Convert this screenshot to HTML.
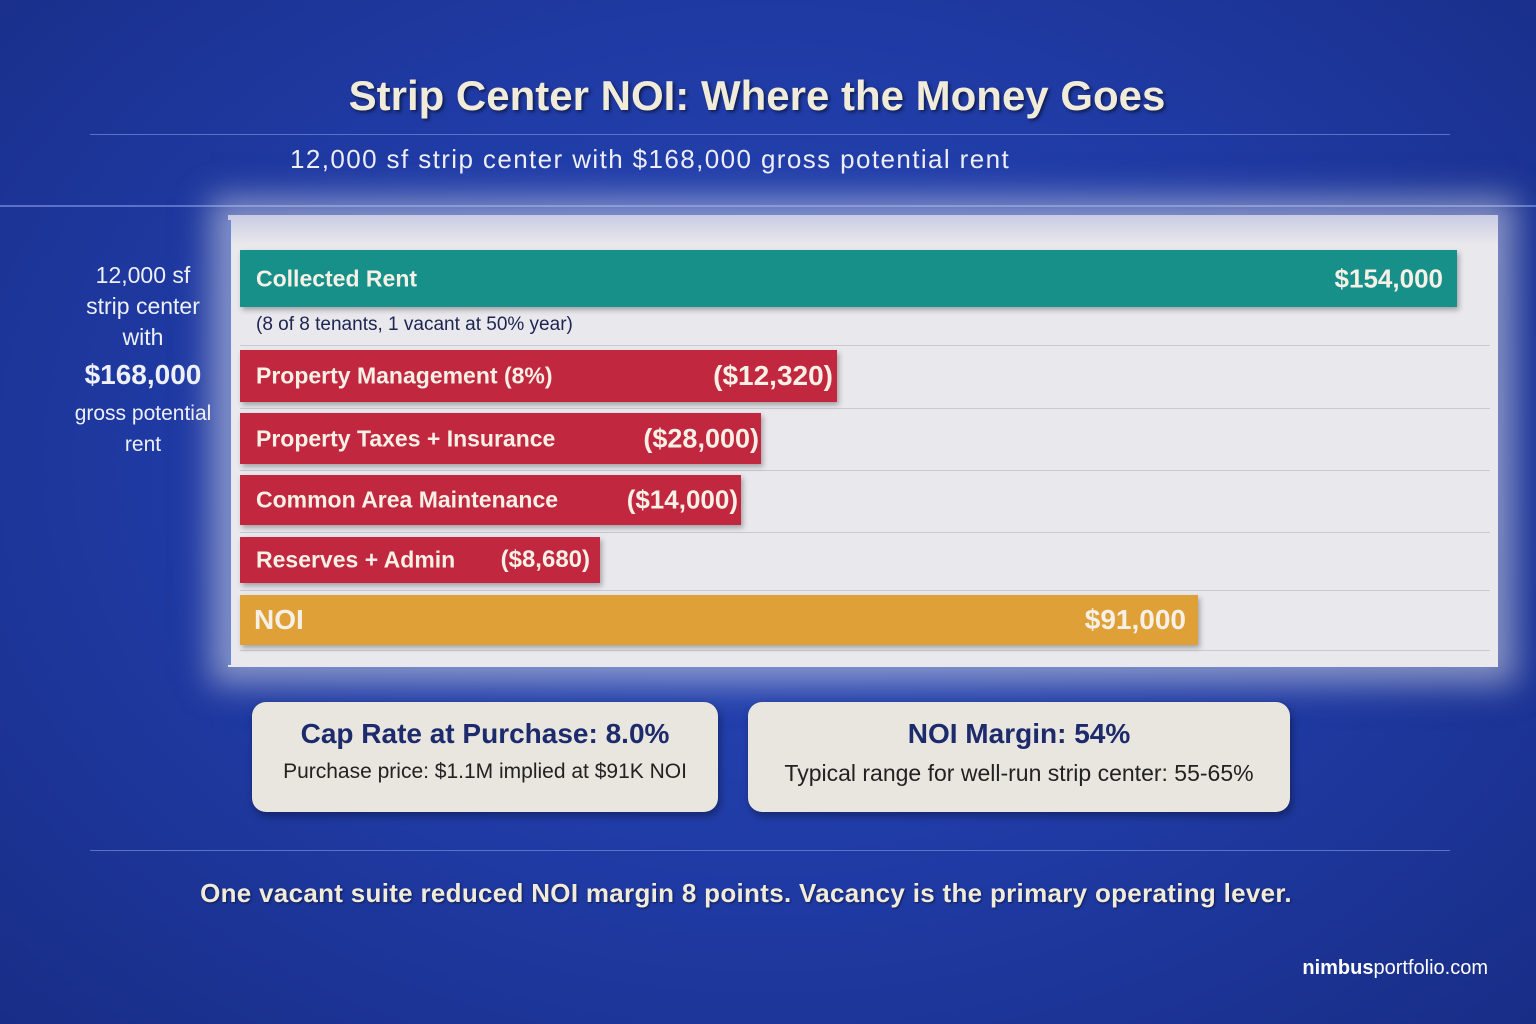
<!DOCTYPE html>
<html><head><style>
body{margin:0;width:1536px;height:1024px;overflow:hidden;font-family:"Liberation Sans",sans-serif;
background:radial-gradient(ellipse at 50% 45%,#2747b8 0%,#1f3aa3 55%,#182d86 100%);position:relative}
.a{position:absolute}
.panel{left:228px;top:215px;width:1270px;height:452px;background:linear-gradient(#c8cce4 0px,#e9e8ec 30px);box-shadow:0 0 30px 18px rgba(233,232,236,0.5);}
.bar{position:absolute;left:240px;color:#f6f0e6;font-weight:bold;font-size:23px;box-shadow:2px 3px 5px rgba(0,0,0,0.3)}
.bar span{position:absolute;top:50%;transform:translateY(-50%)}
.red{background:#c1283f}
.gl{position:absolute;left:240px;width:1250px;height:1px;background:#c9c9d0}
.box{position:absolute;top:702px;height:110px;background:#e9e6df;border-radius:14px;box-shadow:2px 4px 8px rgba(0,0,0,0.35);text-align:center;color:#1d2a6b}
.box .h{font-weight:bold;font-size:28px;margin-top:16px}
.box .s{font-size:21px;margin-top:10px;color:#222}
</style></head><body>
<div class="a" style="left:0;width:1536px;top:72px;text-align:center;font-size:42px;font-weight:bold;color:#f1ebd9;text-shadow:2px 2px 3px rgba(0,0,0,0.5)"><span style="position:relative;left:-11px">Strip Center NOI: Where the Money Goes</span></div>
<div class="a" style="left:90px;width:1360px;top:134px;height:1px;background:#5a72c8"></div>
<div class="a" style="left:290px;top:144px;font-size:26px;letter-spacing:1.4px;color:#eeeef6">12,000 sf strip center with $168,000 gross potential rent</div>
<div class="a" style="left:0;width:1536px;top:205px;height:2px;background:#5a72c8"></div>
<div class="a panel"></div>
<div class="a" style="left:228px;top:220px;width:3px;height:445px;background:#6f86d0"></div>
<div class="a" style="left:60px;width:166px;top:260px;text-align:center;color:#eef0f8;font-size:23px;line-height:31px">12,000 sf<br>strip center<br>with<br><b style="font-size:28px;line-height:44px">$168,000</b><br><span style="font-size:21px;line-height:26px">gross potential<br>rent</span></div>
<div class="gl" style="top:345px"></div><div class="gl" style="top:408px"></div><div class="gl" style="top:470px"></div><div class="gl" style="top:532px"></div><div class="gl" style="top:590px"></div><div class="gl" style="top:650px"></div>
<div class="bar" style="top:250px;width:1217px;height:57px;background:#18908a"><span style="left:16px">Collected Rent</span><span style="right:14px;font-size:26px">$154,000</span></div>
<div class="a" style="left:256px;top:314px;font-size:19px;color:#1d2452">(8 of 8 tenants, 1 vacant at 50% year)</div>
<div class="bar red" style="top:350px;width:597px;height:52px"><span style="left:16px">Property Management (8%)</span><span style="right:4px;font-size:28px">($12,320)</span></div>
<div class="bar red" style="top:413px;width:521px;height:51px"><span style="left:16px">Property Taxes + Insurance</span><span style="right:2px;font-size:27px">($28,000)</span></div>
<div class="bar red" style="top:475px;width:501px;height:50px"><span style="left:16px">Common Area Maintenance</span><span style="right:3px;font-size:26px">($14,000)</span></div>
<div class="bar red" style="top:537px;width:360px;height:46px"><span style="left:16px">Reserves + Admin</span><span style="right:10px;font-size:24px">($8,680)</span></div>
<div class="bar" style="top:595px;width:958px;height:50px;background:#e0a038"><span style="left:14px;font-size:28px">NOI</span><span style="right:12px;font-size:28px">$91,000</span></div>
<div class="box" style="left:252px;width:466px"><div class="h">Cap Rate at Purchase: 8.0%</div><div class="s">Purchase price: $1.1M implied at $91K NOI</div></div>
<div class="box" style="left:748px;width:542px"><div class="h">NOI Margin: 54%</div><div class="s" style="font-size:23px">Typical range for well-run strip center: 55-65%</div></div>
<div class="a" style="left:90px;width:1360px;top:850px;height:1px;background:#5a72c8"></div>
<div class="a" style="left:0;width:1492px;top:878px;text-align:center;font-size:26px;letter-spacing:0.3px;font-weight:bold;color:#f1ebd9;text-shadow:1px 1px 2px rgba(0,0,0,0.5)">One vacant suite reduced NOI margin 8 points. Vacancy is the primary operating lever.</div>
<div class="a" style="right:48px;top:957px;font-size:20px;color:#fff"><b>nimbus</b>portfolio.com</div>
</body></html>
